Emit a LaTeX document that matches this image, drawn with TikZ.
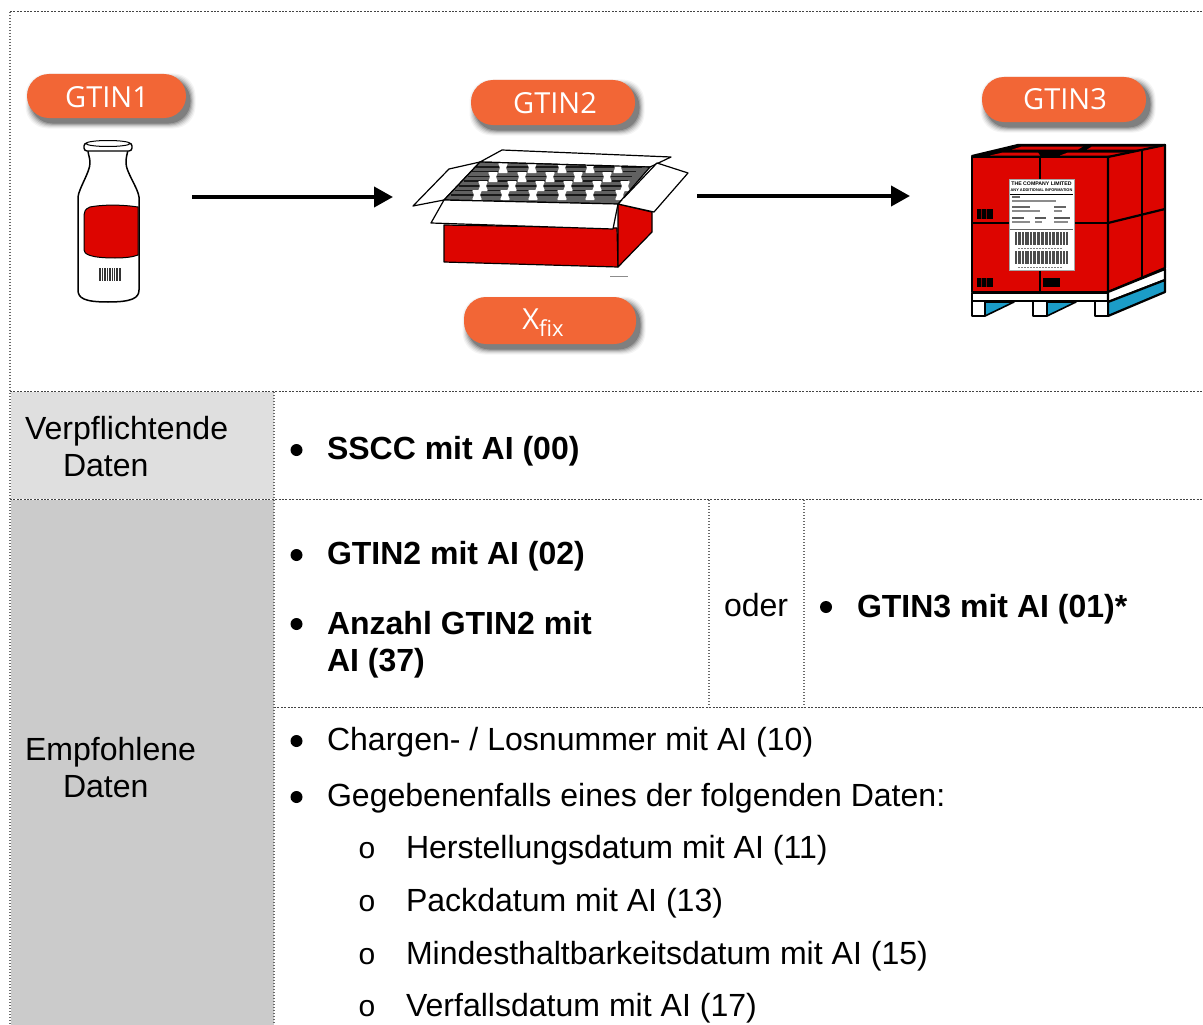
\documentclass[tikz,border=0pt]{standalone}
\usepackage{fontspec}
\setmainfont{Liberation Sans}
\newfontfamily\pillfont{Open Sans}
\usetikzlibrary{arrows.meta}
\definecolor{pillorange}{HTML}{F26636}
\definecolor{redbox}{HTML}{DD0500}
\definecolor{palletblue}{HTML}{1B9CC8}
\definecolor{cellone}{HTML}{DFDFDF}
\definecolor{celltwo}{HTML}{CBCBCB}
\definecolor{rulegray}{HTML}{444444}
\tikzset{
  x=1pt,y=-1pt,
  rulex/.style={draw=rulegray,line width=1pt,dash pattern=on 2pt off 1.4pt},
  ruley/.style={draw=rulegray!80,line width=2pt,dash pattern=on 1.3pt off 1.7pt},
  body/.style={anchor=base west,inner sep=0pt,outer sep=0pt,font=\fontsize{32.05}{37}\selectfont,text=black},
  bodyb/.style={body,font=\fontsize{32}{37}\selectfont\bfseries},
  dotb/.style={circle,fill=black,inner sep=0pt,minimum size=12pt},
  subo/.style={anchor=base,inner sep=0pt,font=\fontsize{30}{32}\selectfont},
  pill/.style={rounded corners=22pt,fill=pillorange,draw=none},
  pilltext/.style={inner sep=0pt,text=white,font=\fontsize{29}{32}\selectfont\pillfont},
  flow/.style={line width=4pt,-{Triangle[length=19pt,width=20pt]}},
  outl/.style={draw=black,line width=1.2pt,line join=round},
  palout/.style={draw=black,line width=2.2pt,line join=round},
}
\newcommand{\pillshape}[4]{%
  \foreach \g/\o in {11/.04,9/.06,7/.08,5/.11,3/.15,1/.2}{%
    \fill[black,opacity=\o,rounded corners=22pt] (#1-\g/2+4,#2-\g/2+5) rectangle (#3+\g/2+4,#4+\g/2+5);}%
  \path[pill] (#1,#2) rectangle (#3,#4);}
\begin{document}
\begin{tikzpicture}
\useasboundingbox (0,0) rectangle (1203,1025);
\fill[white] (0,0) rectangle (1203,1025);
% cells
\fill[cellone] (11,392) rectangle (274,499);
\fill[celltwo] (11,500) rectangle (274,1025);
% rules
\draw[ruley] (10,12) -- (10,1025);
\draw[ruley] (274,392) -- (274,1025);
\draw[ruley,line width=1.5pt] (709,500) -- (709,707);
\draw[ruley,line width=1.5pt] (804,500) -- (804,707);
\draw[rulex] (10,12) -- (1203,12);
\draw[rulex] (10,391) -- (1203,391);
\draw[rulex] (10,499) -- (1203,499);
\draw[rulex] (274,707) -- (1203,707);
% pills
\pillshape{27}{74}{186}{118}
\node[pilltext] (p1) at (107,97) {GTIN1};
\pillshape{471}{80}{635}{125}
\node[pilltext] (p2) at (555,103) {GTIN2};
\pillshape{464}{297}{636}{344}
\node[pilltext,anchor=base] (p3) at (543,329) {X\raisebox{-7pt}{\fontsize{22}{24}\selectfont fix}};
\pillshape{982}{77}{1146}{122}
\node[pilltext] (p4) at (1065,99) {GTIN3};
% bottle
\draw[black,line width=1.5pt,fill=white,line join=round]
  (88,150) .. controls (88,155) and (90,157) .. (90,163)
  .. controls (90,172) and (79,188) .. (78,197)
  -- (78,290) .. controls (78,298) and (84,302) .. (108,302)
  .. controls (132,302) and (139,298) .. (139,290)
  -- (139,197) .. controls (138,188) and (126,172) .. (126,163)
  .. controls (126,157) and (127,155) .. (128,150) -- cycle;
\draw[black,line width=1.4pt,fill=white,rounded corners=3pt] (84,143) rectangle (132,151);
\draw[black,line width=1pt,fill=white] (108,143.5) ellipse (22 and 3);
\draw[black,line width=1pt,fill=redbox]
  (138,207) .. controls (118,204) and (100,205) .. (90,207)
  .. controls (85,209) and (84,212) .. (84,215)
  -- (84,250) .. controls (84,254) and (90,258) .. (115,258)
  .. controls (125,258) and (133,257) .. (138,255) -- cycle;
\fill[black!80] (99,268) rectangle (121,281);
\foreach \xx in {101,103.4,...,120}{\fill[white] (\xx,268) rectangle (\xx+.9,281);}
% box
\draw[outl,fill=redbox] (444,225) -- (617,228) -- (618,267) -- (444,262) -- cycle;
\draw[outl,fill=redbox] (618,204) -- (652,212) -- (652,232) -- (618,267) -- cycle;
\draw[outl,fill=white] (480,162) -- (449,169) -- (413,206) -- (444,200) -- cycle;
\draw[outl,fill=white] (502,150) -- (671,157) -- (650,167) -- (480,162) -- cycle;
\draw[outl,fill=white] (657,163) -- (688,173) -- (654,212) -- (618,204) -- cycle;
\fill[black!62] (480,162) -- (650,167) -- (618,204) -- (444,200) -- cycle;
\foreach \yy/\xl/\xr in {167/476/642,171.5/472/636,176.5/468/632,181/464/628,186/459/624,190.5/455/620,195/451/618}{
  \draw[black!90,line width=1.3pt] (\xl,\yy) -- (\xr,\yy);
}
\foreach \yy/\lst in {168/{503,532,562,590,618},177/{493,522,550,578,607},186/{483,512,540,568,597,625},195/{477,505,533,562,590,620}}{
  \foreach \xx in \lst {
    \fill[white,rounded corners=1pt] (\xx-5,\yy-5) -- (\xx+5,\yy-5) -- (\xx+3,\yy) -- (\xx+5,\yy+5) -- (\xx-5,\yy+5) -- (\xx-3,\yy) -- cycle;
  }
}
\draw[outl] (480,162) -- (650,167) -- (618,204) -- (444,200) -- cycle;
\draw[outl,fill=white] (444,200) -- (618,204) -- (613,229) -- (431,223) -- cycle;
\draw[black!45,line width=1pt] (610,276) -- (628,276);
% pallet
\draw[palout,fill=black] (972,156) -- (1018,145) -- (1165,145) -- (1108,157) -- cycle;
\fill[redbox] (1022,146.5) -- (1083,146.5) -- (1078,149.5) -- (1012,149.5) -- cycle;
\fill[redbox] (1092,146.5) -- (1157,146.5) -- (1146,149.5) -- (1087,149.5) -- cycle;
\fill[redbox] (1003,152.5) -- (1038,152.5) -- (1040,155.5) -- (990,155.5) -- cycle;
\fill[redbox] (1068,152.5) -- (1137,152.5) -- (1124,155.5) -- (1060,155.5) -- cycle;
\draw[palout,fill=redbox] (972,157) rectangle (1108,292);
\draw[palout,fill=redbox] (1108,157) -- (1165,145) -- (1165,268) -- (1108,292) -- cycle;
\draw[palout] (1040,157) -- (1040,292);
\draw[palout] (972,223) -- (1108,223);
\draw[palout] (1142,150) -- (1142,277);
\draw[palout] (1108,223) -- (1165,209);
\draw[palout,fill=white] (972,293) rectangle (1108,301);
\draw[palout,fill=white] (1108,292) -- (1165,269) -- (1165,280) -- (1108,302) -- cycle;
\draw[palout,fill=palletblue] (1108,302) -- (1165,280) -- (1165,292) -- (1108,316) -- cycle;
\draw[palout,fill=palletblue,line width=1.6pt] (985,302) -- (1014,302) -- (985,316) -- cycle;
\draw[palout,fill=palletblue,line width=1.6pt] (1047,302) -- (1076,302) -- (1047,316) -- cycle;
\draw[palout,fill=white] (972,301) rectangle (985,316);
\draw[palout,fill=white] (1033,301) rectangle (1047,316);
\draw[palout,fill=white] (1095,301) rectangle (1108,316);
\fill[black] (977,209) rectangle (993,219);
\fill[black] (977,278) rectangle (993,287);
\fill[black] (1043,278) rectangle (1060,287);
\foreach \xx in {981,986}{\fill[redbox!60!black] (\xx,209) rectangle (\xx+1,219);\fill[redbox!60!black] (\xx,278) rectangle (\xx+1,287);}
% shipping label
\draw[black!35,fill=white,line width=.8pt] (1009,179.5) rectangle (1074,270);
\node[inner sep=0pt,font=\fontsize{5.2}{6}\selectfont\bfseries] (lab1) at (1041.5,184) {THE COMPANY LIMITED};
\node[inner sep=0pt,font=\fontsize{3.9}{6}\selectfont\bfseries] (lab2) at (1041.5,190) {ANY ADDITIONAL INFORMATION};
\draw[black,line width=.7pt] (1010,194) -- (1073,194);
\foreach \ya/\xa/\xb/\cc in {197/1012/1020/60,201/1012/1056/45,207/1012/1030/60,211/1012/1040/45,207/1054/1066/60,211/1054/1062/45,218/1012/1024/65,222/1012/1030/45,218/1035/1046/65,222/1035/1042/45,218/1054/1070/65,222/1054/1068/45}{
  \draw[black!\cc,line width=1.2pt] (\xa,\ya) -- (\xb,\ya);
}
\draw[black!60,line width=.6pt] (1010,229) -- (1073,229);
\foreach \yb/\yc in {232/245,251/264}{
  \fill[black!70] (1015,\yb) rectangle (1068,\yc);
  \foreach \xx/\w in {1017/1,1020.5/.8,1024/1.2,1029/.8,1032/1,1036/1.4,1040/.8,1044/1.2,1048/.8,1051/1,1055/1.4,1059/.8,1062/1,1065/.8}{
    \fill[white] (\xx,\yb) rectangle (\xx+\w,\yc);
  }
}
\draw[black!50,line width=1pt,dash pattern=on 2pt off 1pt] (1018,248) -- (1062,248);
\draw[black!50,line width=1pt,dash pattern=on 2pt off 1pt] (1018,267) -- (1062,267);
% arrows
\coordinate (a1s) at (192,197); \coordinate (a1e) at (393,197);
\coordinate (a2s) at (697,196); \coordinate (a2e) at (910,196);
\draw[flow] (a1s) -- (a1e);
\draw[flow] (a2s) -- (a2e);
% left column
\node[body] (t1) at (25,439) {Verpflichtende};
\node[body] (t2) at (63,476) {Daten};
\node[body] (t3) at (25,760) {Empfohlene};
\node[body] (t4) at (63,797) {Daten};
% lists
\node[dotb] (b1) at (296.5,450) {};
\node[bodyb] (s1) at (327,459) {SSCC mit AI (00)};
\node[dotb] (b2) at (296.5,555) {};
\node[bodyb] (s2) at (327,564) {GTIN2 mit AI (02)};
\node[dotb] (b3) at (296.5,624) {};
\node[bodyb] (s3) at (327,634) {Anzahl GTIN2 mit};
\node[bodyb] (s4) at (327,671) {AI (37)};
\node[body] (s5) at (724,616) {oder};
\node[dotb] (b4) at (826,607) {};
\node[bodyb] (s6) at (857,617) {GTIN3 mit AI (01)*};
\node[dotb] (b5) at (296.5,741) {};
\node[body] (s7) at (327,750) {Chargen- / Losnummer mit AI (10)};
\node[dotb] (b6) at (296.5,797) {};
\node[body] (s8) at (327,806) {Gegebenenfalls eines der folgenden Daten:};
\foreach \nm/\yy/\tx in {a/858/Herstellungsdatum mit AI (11),b/911/Packdatum mit AI (13),c/964/Mindesthaltbarkeitsdatum mit AI (15),d/1016/Verfallsdatum mit AI (17)}{
  \node[subo] (o\nm) at (367,\yy) {o};
  \node[body] (u\nm) at (406,\yy) {\tx};
}
\end{tikzpicture}
\end{document}
